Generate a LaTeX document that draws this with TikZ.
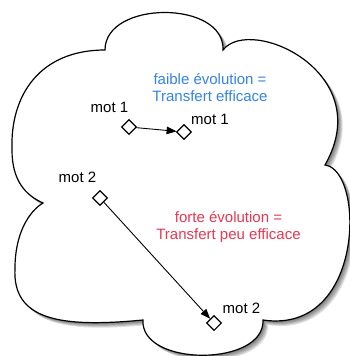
\documentclass[tikz,border=0pt]{standalone}
\usepackage{fontspec}
\setmainfont{Liberation Sans}
\usetikzlibrary{arrows.meta,shapes.geometric}
\definecolor{bluetxt}{RGB}{52,132,230}
\definecolor{redtxt}{RGB}{232,56,82}
\begin{document}
\begin{tikzpicture}[x=1pt,y=-1pt,
  mot/.style={font=\fontsize{15}{17}\selectfont, anchor=base, inner sep=0},
  note/.style={font=\fontsize{15}{17}\selectfont, align=center, inner sep=0},
  pt/.style={diamond, draw=black, fill=white, line width=1.1pt, minimum width=15pt, minimum height=15pt, inner sep=0},
  link/.style={draw=black, line width=0.9pt, -{Triangle[length=10pt,width=7.5pt]}},
  cloudline/.style={line width=1.2pt},
  cloudp/.style={insert path={(105,50) .. controls (105,0) and (225,0) .. (223,50) .. controls (250,15) and (378,72) .. (325,165) .. controls (365,170) and (365,335) .. (263,320) .. controls (265,367) and (140,367) .. (143,320) .. controls (60,328) and (12,320) .. (15,268) .. controls (15,235) and (28,212) .. (43,203) .. controls (25,195) and (12,180) .. (12,150) .. controls (10,95) and (40,50) .. (105,50) -- cycle}}]
\useasboundingbox (0,0) rectangle (350,356);
\foreach \s in {1,2,3,4,5}{
  \fill[black, opacity=0.13, shift={(\s,\s)}, cloudp];
}
\filldraw[fill=white, draw=black, cloudline, cloudp];
\node[pt] (d1) at (129,127) {};
\node[pt] (d2) at (184,132) {};
\node[pt] (d3) at (100,198) {};
\node[pt] (d4) at (214,323) {};
\draw[link] (d1) -- (d2);
\draw[link] (d3) -- (d4);
\node[mot] (l1) at (109.5,112) {mot 1};
\node[mot] (l2) at (210,124) {mot 1};
\node[mot] (l3) at (77.5,182) {mot 2};
\node[mot] (l4) at (241.5,313) {mot 2};
\node[note, text=bluetxt] (n1) at (210,87.5) {faible évolution =\\Transfert efficace};
\node[note, text=redtxt] (n2) at (228.5,227) {forte évolution =\\Transfert peu efficace};
\end{tikzpicture}
\end{document}
